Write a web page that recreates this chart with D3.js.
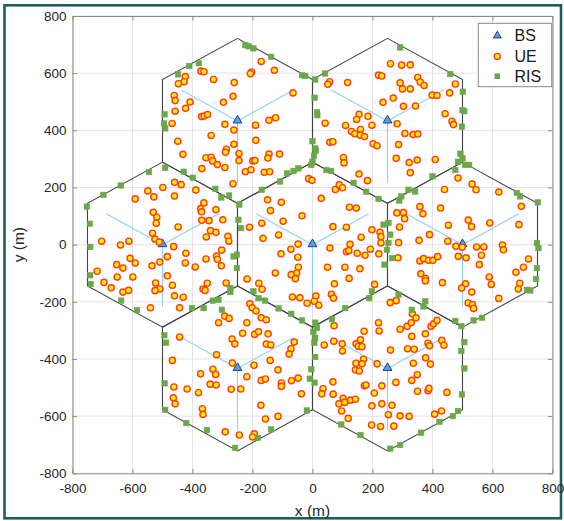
<!DOCTYPE html>
<html><head><meta charset="utf-8">
<script src="https://cdn.jsdelivr.net/npm/d3@7"></script>
<style>html,body{margin:0;padding:0;background:#fff;}svg{display:block;font-family:"Liberation Sans",Arial,Helvetica,sans-serif;}</style>
</head><body>
<svg id="chart" width="564" height="521"></svg>
<script>
// ---- data ----
const axisTicks = [-800,-600,-400,-200,0,200,400,600,800];
const bsX = [0, 500, -500, 250, -250, 250, -250];
const bsY = [0, 0, 0, 433, 433, -433, -433];
const cellRadius = 288.7;
const sectorLength = 216.5;
const sectorAngles = [30, 150, 270];
const legendLabels = ["BS", "UE", "RIS"];

const ueX = [-424,-428,-447,-372,-362,-330,-261,-461,-458,-408,-423,-458,-297,-265,-370,-361,-350,-468,-292,-262,-338,-449,-262,-287,-290,-432,-355,-338,-333,-317,-292,-369,
-171,-203,-207,-127,-65,57,51,117,220,231,235,-190,-145,-123,-189,-245,-245,-199,-192,-145,-149,-110,-224,-205,-161,-143,155,147,185,42,110,160,130,141,159,173,198,58,68,202,215,103,105,155,
260,297,326,292,300,326,351,359,372,269,303,343,399,415,476,457,442,465,470,282,308,335,351,287,279,322,349,409,326,
-591,-549,-529,-499,-460,-438,-460,-389,-362,-373,-370,-322,-369,-345,-299,-265,-531,-519,-521,-448,-533,-525,-511,-463,-340,-322,-354,-282,-279,-703,-640,-612,-608,-591,-653,-632,-718,-651,-599,-535,-509,-484,-422,-424,-391,-355,-320,-317,-304,-303,-484,-523,-509,-525,-467,-460,-431,-695,-671,-632,-613,-540,-443,-351,-365,-358,-288,
-13,-2,76,89,100,29,-150,-104,-140,-169,-98,-35,-210,-165,-113,-48,-72,-105,-49,68,113,123,146,183,162,125,113,121,149,175,193,221,198,225,228,228,58,50,108,158,122,73,207,-124,-47,-53,-71,-57,-218,-179,-168,-67,-42,11,6,-18,21,63,70,-209,-201,-188,
485,532,545,621,440,358,368,427,281,303,307,290,390,453,519,530,591,688,696,287,355,451,478,499,547,571,633,636,285,358,370,387,401,417,486,512,563,556,720,703,678,361,376,376,433,589,596,510,497,531,691,686,621,519,533,537,279,259,
-313,-293,-278,-443,-268,-259,-320,-467,-267,-373,-332,-323,-462,-418,-380,-341,-321,-271,-464,-458,-367,-365,-291,
-219,-171,-154,-233,-193,-180,-148,-154,-139,-61,-72,-78,-195,-141,-115,-219,-171,-157,-104,-104,-70,-48,-239,-37,-172,-157,-115,-244,-194,-200,39,71,99,100,72,145,153,165,160,172,220,222,170,145,165,143,156,215,68,35,31,69,102,88,107,127,143,97,119,173,178,231,206,231,198,197,227,
333,345,292,315,329,395,403,415,331,376,260,317,339,385,390,431,438,377,393,336,349,331,278,350,385,388,448,265,253,292,322,271,407,430];
const ueY = [588,570,563,607,605,578,567,522,504,499,477,467,498,519,448,450,455,424,421,401,382,362,351,334,323,316,304,306,293,280,270,266,
641,604,598,610,531,570,561,567,593,590,498,418,435,444,365,319,294,293,294,317,303,317,255,262,253,255,456,438,449,425,417,403,396,388,383,378,418,358,360,353,346,305,286,247,
633,628,629,566,545,545,585,569,557,513,484,485,523,522,562,531,458,432,420,423,389,385,387,350,302,287,296,298,252,
160,188,167,200,218,210,170,191,146,126,115,122,85,84,87,213,113,96,75,62,40,19,9,-7,49,43,27,29,12,12,-1,12,-48,-64,-70,-82,-93,-113,-113,-74,-61,-42,-30,-64,-78,-50,-40,-51,-74,-19,-109,-134,-155,-161,-142,-179,-184,-132,-151,-166,-160,-221,-221,-135,-155,-160,-134,
231,225,193,209,199,162,157,148,119,75,82,101,61,22,34,2,-16,-32,-44,63,61,131,128,224,26,1,-25,-21,-30,-37,-16,-32,52,43,28,6,-12,-79,-79,-84,-118,-137,-139,-99,-79,-99,-105,-119,-120,-135,-156,-183,-186,-180,-198,-205,-212,-174,-187,-207,-221,-232,
233,212,192,184,193,133,108,128,111,112,91,62,35,68,86,63,76,70,134,7,15,12,-6,-9,-8,-8,-1,-18,-46,-57,-49,-55,-55,-42,-41,-46,-37,-70,-50,-79,-97,-102,-118,-127,-133,-113,-139,-137,-152,-166,-135,-155,-188,-204,-210,-223,-196,-203,
-273,-250,-258,-323,-330,-347,-385,-405,-414,-452,-436,-454,-498,-505,-518,-488,-491,-506,-536,-557,-574,-594,-655,
-273,-256,-263,-310,-314,-305,-312,-348,-351,-341,-364,-383,-422,-405,-438,-462,-475,-470,-484,-496,-476,-467,-505,-522,-562,-610,-601,-666,-662,-673,-351,-338,-347,-372,-284,-347,-356,-357,-333,-303,-273,-302,-401,-415,-417,-438,-442,-417,-480,-504,-522,-523,-538,-557,-552,-544,-541,-582,-608,-494,-491,-494,-519,-557,-564,-631,-636,
-242,-256,-296,-286,-273,-286,-277,-265,-321,-312,-369,-364,-366,-345,-354,-335,-352,-396,-418,-415,-455,-475,-482,-513,-511,-503,-517,-562,-595,-599,-601,-635,-593,-582];

const risX = [-411,-379,-448,-493,-495,-491,-491,-545,-429,
-224,-213,-197,-138,-35,-24,9,42,7,15,16,0,9,11,5,0,-4,-47,-63,-85,46,62,
292,459,501,500,506,498,493,500,485,509,522,476,
-399,-639,-697,-752,-742,-741,-741,-739,-638,-585,-402,-363,-332,-313,-302,-274,-274,-324,-304,-278,-263,
-108,-169,-244,-247,-238,-252,-252,-197,-180,-158,-113,137,179,220,237,240,198,189,109,
400,342,320,296,289,253,259,253,248,265,681,692,751,748,753,748,745,715,726,376,370,331,287,
-494,-488,-493,-491,-421,-352,-258,
-71,-35,9,15,3,9,6,9,-4,-9,7,65,-19,-138,-182,96,160,
476,496,537,565,506,496,506,498,485,468,423,362,292,259];
const risY = [625,635,596,456,424,407,269,254,255,
698,694,687,657,593,590,578,599,514,463,453,362,337,329,311,290,279,267,258,249,261,258,
690,597,535,471,467,413,318,302,290,279,279,261,
234,207,174,133,73,-8,-107,-138,-196,-229,-222,-222,-196,-193,-228,-152,-166,195,165,172,-41,
221,192,140,87,58,-35,-82,-163,-187,-196,-223,216,185,160,70,-70,-163,-187,-222,
239,186,192,169,154,76,35,6,-18,-47,181,169,148,6,-12,-82,-120,-158,-160,-198,-216,-228,-175,
-317,-343,-485,-578,-624,-649,-711,
-242,-265,-273,-291,-305,-326,-343,-393,-436,-469,-483,-261,-580,-646,-676,-629,-666,
-267,-285,-265,-256,-341,-372,-433,-524,-582,-600,-620,-658,-701,-714];

// ---- chart ----
const svg = d3.select("#chart");
const W = 564, H = 521;
const pL = 72.5, pR = 552.5, pT = 16, pB = 473.3;
const x = d3.scaleLinear().domain([-800, 800]).range([pL, pR]);
const y = d3.scaleLinear().domain([-800, 800]).range([pB, pT]);

svg.append("rect").attr("width", W).attr("height", H).attr("fill", "#fff");
svg.append("rect").attr("x", 4.5).attr("y", 5.3).attr("width", 556.5).attr("height", 513)
  .attr("fill", "#fff").attr("stroke", "#1f5c5c").attr("stroke-width", 2.6);

// grid
const grid = svg.append("g");
axisTicks.forEach(t => {
  grid.append("line").attr("x1", x(t)).attr("x2", x(t)).attr("y1", pT).attr("y2", pB)
    .attr("stroke", "#e4e4e4").attr("stroke-width", 1);
  grid.append("line").attr("y1", y(t)).attr("y2", y(t)).attr("x1", pL).attr("x2", pR)
    .attr("stroke", "#e4e4e4").attr("stroke-width", 1);
});

// hexagons
const hexG = svg.append("g");
const hexLine = d3.line().x(d => x(d[0])).y(d => y(d[1]));
bsX.forEach((cx, i) => {
  const cy = bsY[i];
  const pts = d3.range(7).map(k => {
    const a = (90 + 60 * k) * Math.PI / 180;
    return [cx + cellRadius * Math.cos(a), cy + cellRadius * Math.sin(a)];
  });
  hexG.append("path").attr("d", hexLine(pts)).attr("fill", "none")
    .attr("stroke", "#444").attr("stroke-width", 1.1);
});

// sector lines
const secG = svg.append("g");
bsX.forEach((cx, i) => {
  const cy = bsY[i];
  sectorAngles.forEach(ang => {
    const a = ang * Math.PI / 180;
    secG.append("line").attr("x1", x(cx)).attr("y1", y(cy))
      .attr("x2", x(cx + sectorLength * Math.cos(a))).attr("y2", y(cy + sectorLength * Math.sin(a)))
      .attr("stroke", "#8dd3ec").attr("stroke-width", 1.1);
  });
});

// axes
const fmt = d => String(d);
const axG = svg.append("g");
const xAxis = axG.append("g").attr("transform", `translate(0,${pB})`)
  .call(d3.axisBottom(x).tickValues(axisTicks).tickFormat(fmt).tickSizeInner(-4.5).tickSizeOuter(0).tickPadding(10));
const xTop = axG.append("g").attr("transform", `translate(0,${pT})`)
  .call(d3.axisTop(x).tickValues(axisTicks).tickFormat("").tickSizeInner(-4.5).tickSizeOuter(0));
const yAxis = axG.append("g").attr("transform", `translate(${pL},0)`)
  .call(d3.axisLeft(y).tickValues(axisTicks).tickFormat(fmt).tickSizeInner(-4.5).tickSizeOuter(0).tickPadding(6));
const yRight = axG.append("g").attr("transform", `translate(${pR},0)`)
  .call(d3.axisRight(y).tickValues(axisTicks).tickFormat("").tickSizeInner(-4.5).tickSizeOuter(0));
[xAxis, xTop, yAxis, yRight].forEach(g => {
  g.attr("font-size", 13.5).attr("font-family", '"Liberation Sans",Arial,sans-serif');
  g.select(".domain").attr("stroke", "#8a8a8a");
  g.selectAll(".tick line").attr("stroke", "#8a8a8a");
  g.selectAll(".tick text").attr("fill", "#262626").attr("font-size", 13.5);
});

// labels
svg.append("text").attr("x", (pL + pR) / 2).attr("y", 516).attr("text-anchor", "middle")
  .attr("font-size", 15.5).attr("fill", "#262626").text("x (m)");
svg.append("text").attr("transform", `translate(24,${(pT + pB) / 2}) rotate(-90)`)
  .attr("text-anchor", "middle").attr("font-size", 15.5).attr("fill", "#262626").text("y (m)");

// BS
const triangle = d3.symbol().type(d3.symbolTriangle).size(34);
svg.append("g").selectAll("path").data(bsX.map((v, i) => [v, bsY[i]])).join("path")
  .attr("d", triangle).attr("transform", d => `translate(${x(d[0])},${y(d[1]) - 0.5})`)
  .attr("fill", "#5aa0dc").attr("stroke", "#1c3f9a").attr("stroke-width", 1);

// UE
svg.append("g").selectAll("circle").data(ueX.map((v, i) => [v, ueY[i]])).join("circle")
  .attr("cx", d => x(d[0])).attr("cy", d => y(d[1])).attr("r", 3.1)
  .attr("fill", "#ffee00").attr("stroke", "#ff3a20").attr("stroke-width", 1.4);

// RIS
const sq = 5.6;
svg.append("g").selectAll("rect").data(risX.map((v, i) => [v, risY[i]])).join("rect")
  .attr("x", d => x(d[0]) - sq / 2).attr("y", d => y(d[1]) - sq / 2).attr("width", sq).attr("height", sq)
  .attr("fill", "#6aa84a").attr("stroke", "#6aa84a").attr("stroke-width", 0.5);

// legend
const lg = svg.append("g");
lg.append("rect").attr("x", 478.3).attr("y", 23.3).attr("width", 73.4).attr("height", 63.4)
  .attr("fill", "#fff").attr("stroke", "#8a8a8a").attr("stroke-width", 1);
const rowsY = [35.7, 56.4, 76.2];
legendLabels.forEach((lab, i) => {
  const ly = rowsY[i], lx = 497.3;
  if (i === 0) {
    lg.append("path").attr("d", d3.symbol().type(d3.symbolTriangle).size(26)())
      .attr("transform", `translate(${lx},${ly})`).attr("fill", "#5aa0dc").attr("stroke", "#1c3f9a").attr("stroke-width", 1);
  } else if (i === 1) {
    lg.append("circle").attr("cx", lx).attr("cy", ly).attr("r", 3)
      .attr("fill", "#ffee00").attr("stroke", "#ff3a20").attr("stroke-width", 1.4);
  } else {
    lg.append("rect").attr("x", lx - 2.8).attr("y", ly - 2.8).attr("width", 5.6).attr("height", 5.6)
      .attr("fill", "#6aa84a");
  }
  lg.append("text").attr("x", 514.5).attr("y", ly).attr("dy", "0.36em").attr("font-size", 16)
    .attr("fill", "#1a1a1a").text(lab);
});
</script>
</body></html>
